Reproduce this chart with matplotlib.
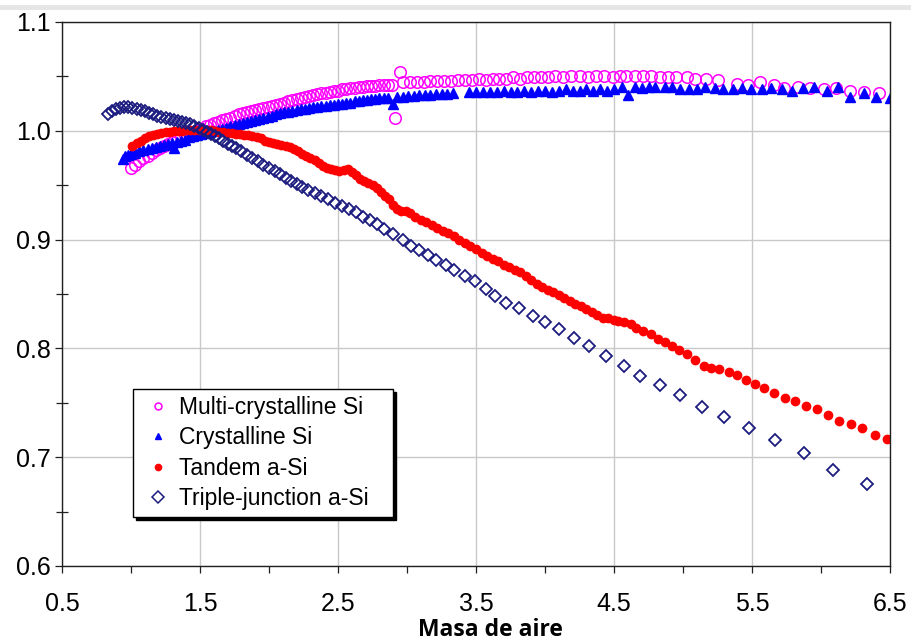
import matplotlib
matplotlib.use("Agg")
import matplotlib.pyplot as plt
from matplotlib.lines import Line2D
from matplotlib.ticker import FixedLocator, MultipleLocator, FormatStrFormatter

# ── data ──────────────────────────────────────────────────────────────────
multi_x = [1.00, 1.03, 1.06, 1.09, 1.12, 1.15, 1.18, 1.21, 1.24, 1.27, 1.30, 1.33,
           1.36, 1.39, 1.42, 1.45, 1.48, 1.51, 1.54, 1.57, 1.60, 1.63, 1.66, 1.69,
           1.72, 1.75, 1.78, 1.81, 1.84, 1.87, 1.90, 1.93, 1.96, 1.99, 2.02, 2.05,
           2.08, 2.11, 2.14, 2.17, 2.20, 2.23, 2.26, 2.29, 2.32, 2.35, 2.38, 2.41,
           2.44, 2.47, 2.50, 2.53, 2.56, 2.59, 2.62, 2.65, 2.68, 2.71, 2.74, 2.77,
           2.80, 2.83, 2.86, 2.89, 2.91, 2.95, 2.97, 3.02, 3.07, 3.12, 3.17, 3.22,
           3.27, 3.32, 3.37, 3.42, 3.47, 3.52, 3.57, 3.62, 3.67, 3.72, 3.77, 3.82,
           3.87, 3.92, 3.97, 4.02, 4.07, 4.13, 4.19, 4.25, 4.31, 4.37, 4.43, 4.49,
           4.54, 4.59, 4.65, 4.71, 4.77, 4.83, 4.89, 4.95, 5.03, 5.09, 5.17, 5.25,
           5.39, 5.47, 5.56, 5.66, 5.73, 5.83, 5.92, 6.02, 6.11, 6.21, 6.31, 6.42]
multi_y = [0.966, 0.969, 0.972, 0.975, 0.977, 0.980, 0.982, 0.984, 0.986, 0.988, 0.990, 0.992,
           0.994, 0.996, 0.998, 0.999, 1.001, 1.002, 1.004, 1.005, 1.007, 1.008, 1.010, 1.011,
           1.012, 1.014, 1.015, 1.016, 1.017, 1.018, 1.019, 1.020, 1.021, 1.022, 1.023, 1.024,
           1.025, 1.026, 1.027, 1.028, 1.029, 1.030, 1.031, 1.032, 1.033, 1.034, 1.035, 1.035,
           1.036, 1.037, 1.037, 1.038, 1.038, 1.039, 1.039, 1.040, 1.040, 1.041, 1.041, 1.041,
           1.042, 1.042, 1.042, 1.042, 1.012, 1.054, 1.045, 1.045, 1.045, 1.045, 1.046, 1.046,
           1.046, 1.046, 1.047, 1.047, 1.047, 1.048, 1.047, 1.048, 1.048, 1.048, 1.049, 1.048,
           1.049, 1.049, 1.049, 1.049, 1.050, 1.049, 1.050, 1.050, 1.049, 1.050, 1.050, 1.049,
           1.050, 1.050, 1.050, 1.050, 1.050, 1.049, 1.049, 1.049, 1.049, 1.048, 1.048, 1.047,
           1.043, 1.042, 1.045, 1.042, 1.039, 1.040, 1.039, 1.038, 1.039, 1.037, 1.036, 1.035]

cryst_x = [0.94, 0.96, 0.98, 1.00, 1.03, 1.06, 1.09, 1.12, 1.15, 1.18, 1.21, 1.24,
           1.27, 1.30, 1.31, 1.33, 1.36, 1.39, 1.42, 1.45, 1.48, 1.51, 1.54, 1.57,
           1.60, 1.63, 1.66, 1.69, 1.72, 1.75, 1.78, 1.81, 1.84, 1.87, 1.90, 1.93,
           1.96, 1.99, 2.02, 2.05, 2.08, 2.11, 2.14, 2.17, 2.20, 2.23, 2.26, 2.29,
           2.32, 2.35, 2.38, 2.41, 2.44, 2.47, 2.50, 2.53, 2.56, 2.59, 2.62, 2.65,
           2.68, 2.71, 2.74, 2.77, 2.80, 2.83, 2.86, 2.90, 2.93, 2.97, 3.01, 3.05,
           3.09, 3.13, 3.17, 3.21, 3.25, 3.29, 3.33, 3.45, 3.50, 3.55, 3.60, 3.65,
           3.70, 3.75, 3.80, 3.85, 3.90, 3.95, 4.00, 4.05, 4.10, 4.15, 4.20, 4.25,
           4.30, 4.35, 4.40, 4.45, 4.50, 4.56, 4.60, 4.65, 4.70, 4.75, 4.80, 4.87,
           4.92, 4.98, 5.04, 5.10, 5.16, 5.23, 5.29, 5.36, 5.43, 5.49, 5.57, 5.64,
           5.72, 5.79, 5.87, 5.95, 6.04, 6.12, 6.21, 6.31, 6.40, 6.50]
cryst_y = [0.974, 0.977, 0.978, 0.979, 0.980, 0.981, 0.982, 0.983, 0.984, 0.985, 0.986, 0.987,
           0.988, 0.989, 0.984, 0.990, 0.991, 0.992, 0.994, 0.995, 0.996, 0.997, 0.998, 0.999,
           1.000, 1.001, 1.002, 1.003, 1.004, 1.005, 1.006, 1.007, 1.008, 1.009, 1.010, 1.011,
           1.012, 1.013, 1.014, 1.015, 1.016, 1.017, 1.017, 1.018, 1.019, 1.020, 1.020, 1.021,
           1.022, 1.022, 1.023, 1.023, 1.024, 1.024, 1.025, 1.025, 1.026, 1.026, 1.027, 1.027,
           1.028, 1.028, 1.029, 1.029, 1.030, 1.030, 1.030, 1.025, 1.031, 1.031, 1.032, 1.032,
           1.033, 1.033, 1.033, 1.034, 1.034, 1.034, 1.035, 1.036, 1.036, 1.036, 1.036, 1.036,
           1.037, 1.036, 1.036, 1.037, 1.036, 1.037, 1.037, 1.036, 1.037, 1.038, 1.037, 1.037,
           1.038, 1.037, 1.038, 1.037, 1.038, 1.040, 1.033, 1.040, 1.039, 1.040, 1.040, 1.040,
           1.040, 1.038, 1.038, 1.038, 1.040, 1.039, 1.038, 1.038, 1.039, 1.038, 1.038, 1.039,
           1.038, 1.037, 1.039, 1.040, 1.037, 1.040, 1.031, 1.035, 1.031, 1.030]

tandem_x = [1.01, 1.04, 1.07, 1.10, 1.13, 1.16, 1.19, 1.22, 1.25, 1.28, 1.31, 1.34,
            1.37, 1.40, 1.43, 1.46, 1.49, 1.52, 1.55, 1.58, 1.61, 1.64, 1.67, 1.70,
            1.73, 1.76, 1.79, 1.82, 1.85, 1.88, 1.91, 1.94, 1.97, 2.00, 2.03, 2.06,
            2.09, 2.12, 2.15, 2.18, 2.21, 2.24, 2.27, 2.30, 2.33, 2.36, 2.39, 2.42,
            2.45, 2.48, 2.51, 2.54, 2.57, 2.60, 2.63, 2.66, 2.69, 2.72, 2.75, 2.78,
            2.81, 2.84, 2.87, 2.90, 2.93, 2.96, 2.99, 3.02, 3.06, 3.10, 3.14, 3.18,
            3.22, 3.26, 3.30, 3.34, 3.38, 3.42, 3.46, 3.50, 3.54, 3.58, 3.62, 3.66,
            3.70, 3.74, 3.78, 3.82, 3.86, 3.90, 3.94, 3.98, 4.02, 4.06, 4.10, 4.14,
            4.18, 4.22, 4.26, 4.30, 4.34, 4.38, 4.42, 4.46, 4.50, 4.53, 4.57, 4.62,
            4.66, 4.71, 4.77, 4.82, 4.87, 4.92, 4.97, 5.03, 5.09, 5.15, 5.20, 5.26,
            5.33, 5.39, 5.46, 5.52, 5.59, 5.66, 5.74, 5.81, 5.89, 5.97, 6.05, 6.13,
            6.22, 6.30, 6.39, 6.48]
tandem_y = [0.986, 0.989, 0.991, 0.993, 0.995, 0.996, 0.997, 0.998, 0.999, 0.999, 1.000, 1.000,
            1.000, 1.001, 1.001, 1.001, 1.001, 1.001, 1.001, 1.001, 1.000, 0.999, 0.999, 0.998,
            0.998, 0.997, 0.997, 0.996, 0.996, 0.995, 0.994, 0.993, 0.991, 0.990, 0.989, 0.988,
            0.987, 0.986, 0.985, 0.983, 0.981, 0.979, 0.977, 0.975, 0.973, 0.970, 0.968, 0.966,
            0.965, 0.964, 0.963, 0.964, 0.965, 0.962, 0.959, 0.956, 0.954, 0.952, 0.950, 0.947,
            0.944, 0.940, 0.937, 0.932, 0.928, 0.926, 0.926, 0.924, 0.921, 0.918, 0.916, 0.913,
            0.911, 0.908, 0.906, 0.903, 0.900, 0.897, 0.894, 0.891, 0.888, 0.885, 0.882, 0.880,
            0.877, 0.875, 0.872, 0.870, 0.867, 0.863, 0.859, 0.856, 0.854, 0.852, 0.849, 0.846,
            0.844, 0.841, 0.839, 0.836, 0.833, 0.831, 0.828, 0.828, 0.826, 0.825, 0.8245, 0.822,
            0.8185, 0.8163, 0.8132, 0.8084, 0.8057, 0.8025, 0.7985, 0.7946, 0.7893, 0.7841, 0.7817, 0.7811,
            0.7786, 0.7756, 0.7710, 0.7673, 0.7639, 0.7593, 0.7544, 0.7517, 0.7471, 0.7440, 0.7388, 0.7335,
            0.7302, 0.7266, 0.7204, 0.7167]

triple_x = [0.83, 0.86, 0.89, 0.92, 0.95, 0.98, 1.01, 1.04, 1.07, 1.10, 1.13, 1.16,
            1.19, 1.22, 1.25, 1.28, 1.31, 1.34, 1.37, 1.40, 1.43, 1.46, 1.49, 1.52,
            1.55, 1.58, 1.61, 1.64, 1.67, 1.70, 1.73, 1.76, 1.80, 1.84, 1.88, 1.92,
            1.96, 2.00, 2.04, 2.08, 2.12, 2.16, 2.20, 2.24, 2.28, 2.33, 2.38, 2.43,
            2.48, 2.53, 2.58, 2.63, 2.68, 2.73, 2.78, 2.83, 2.90, 2.97, 3.03, 3.09,
            3.15, 3.21, 3.28, 3.34, 3.42, 3.49, 3.57, 3.64, 3.72, 3.81, 3.91, 4.00,
            4.10, 4.21, 4.32, 4.44, 4.57, 4.69, 4.83, 4.98, 5.14, 5.30, 5.48, 5.67,
            5.88, 6.09, 6.33]
triple_y = [1.015, 1.018, 1.020, 1.021, 1.022, 1.022, 1.021, 1.020, 1.019, 1.018, 1.016, 1.015,
            1.014, 1.013, 1.012, 1.011, 1.010, 1.009, 1.008, 1.007, 1.006, 1.004, 1.003, 1.001,
            0.999, 0.997, 0.995, 0.993, 0.991, 0.988, 0.986, 0.984, 0.981, 0.978, 0.975, 0.972,
            0.969, 0.966, 0.963, 0.960, 0.957, 0.954, 0.951, 0.948, 0.946, 0.943, 0.940, 0.937,
            0.934, 0.931, 0.928, 0.925, 0.921, 0.918, 0.914, 0.910, 0.905, 0.900, 0.894, 0.890,
            0.886, 0.881, 0.877, 0.872, 0.867, 0.862, 0.855, 0.848, 0.842, 0.837, 0.830, 0.824,
            0.818, 0.810, 0.802, 0.793, 0.784, 0.775, 0.766, 0.757, 0.746, 0.737, 0.727, 0.716,
            0.704, 0.688, 0.675]

labels = ['Multi-crystalline Si', 'Crystalline Si', 'Tandem a-Si', 'Triple-junction a-Si']
x_major = [0.5, 1.5, 2.5, 3.5, 4.5, 5.5, 6.5]
x_minor = [1.0, 2.0, 3.0, 4.0, 5.0, 6.0]

plt.rcParams['font.family'] = ['Liberation Sans', 'DejaVu Sans']

fig = plt.figure(figsize=(9.12, 6.44), dpi=100)
ax = fig.add_axes([62 / 912, 1 - 566 / 644, 828 / 912, 544 / 644])

navy = '#1c1c80'
ax.plot(multi_x, multi_y, ls='none', marker='o', ms=8.3, mfc='none', mec='#ff00ff', mew=1.1)
ax.plot(cryst_x, cryst_y, ls='none', marker='^', ms=6.8, color='#0000ff', mec='#0000ff')
ax.plot(tandem_x, tandem_y, ls='none', marker='o', ms=6.0, color='#ff0000', mec='#ff0000')
ax.plot(triple_x, triple_y, ls='none', marker='D', ms=6.2, mfc='none', mec=navy, mew=1.3)

ax.set_xlim(0.5, 6.5)
ax.set_ylim(0.6, 1.1)
ax.xaxis.set_major_locator(FixedLocator(x_major))
ax.xaxis.set_minor_locator(FixedLocator(x_minor))
ax.yaxis.set_major_locator(MultipleLocator(0.1))
ax.yaxis.set_minor_locator(MultipleLocator(0.05))
ax.xaxis.set_major_formatter(FormatStrFormatter('%.1f'))
ax.yaxis.set_major_formatter(FormatStrFormatter('%.1f'))

ax.grid(True, which='major', color='#c8c8c8', lw=1.0)
ax.set_axisbelow(True)
for sp in ax.spines.values():
    sp.set_color('#202020')
    sp.set_linewidth(1.0)

ax.tick_params(axis='x', which='both', direction='out', length=5, width=0.9, color='#202020',
               labelsize=18, pad=14)
ax.tick_params(axis='y', which='major', direction='out', length=5, width=0.9, color='#202020',
               labelsize=18, pad=3)
ax.tick_params(axis='y', which='minor', direction='inout', length=9, width=0.9, color='#202020')

ax.set_xlabel('Masa de aire', fontsize=16.5, fontweight='bold', family='Open Sans')
ax.xaxis.set_label_coords(0.517, -0.095)

handles = [
    Line2D([], [], ls='none', marker='o', ms=5, mfc='none', mec='#ff00ff', mew=1.1),
    Line2D([], [], ls='none', marker='^', ms=4.5, color='#0000ff'),
    Line2D([], [], ls='none', marker='o', ms=4.5, color='#ff0000'),
    Line2D([], [], ls='none', marker='D', ms=6.5, mfc='none', mec=navy, mew=1.1),
]
leg = ax.legend(handles, labels, loc='lower left',
                bbox_to_anchor=(71 / 828, 49 / 544, 260 / 828, 124 / 544), mode='expand',
                fontsize=16.5, frameon=True, fancybox=False, shadow={'color': 'black', 'alpha': 1},
                edgecolor='black', framealpha=1, borderpad=0.3, labelspacing=0.32,
                handlelength=1.6, handletextpad=0.1, borderaxespad=0)
leg.get_frame().set_linewidth(1.0)

# light band across the top of the screenshot
fig.add_artist(Line2D([0, 1], [1 - 7 / 644, 1 - 7 / 644], transform=fig.transFigure,
                      color='#e6e6e6', lw=3.5))

fig.savefig('out.png', dpi=100)
